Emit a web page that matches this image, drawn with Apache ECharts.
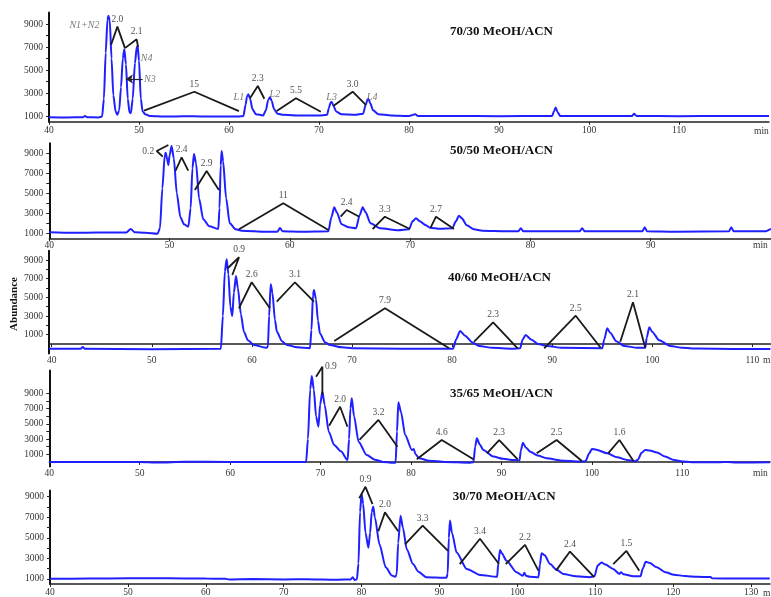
<!DOCTYPE html>
<html><head><meta charset="utf-8">
<script src="https://cdn.jsdelivr.net/npm/echarts@6/dist/echarts.min.js"></script>
<style>html,body{margin:0;padding:0;background:#fff}#c{width:771px;height:597px}</style>
</head><body><div id="c"></div>
<script>
// ---------- DATA ----------
const panelTitles = ['70/30 MeOH/ACN', '50/50 MeOH/ACN', '40/60 MeOH/ACN', '35/65 MeOH/ACN', '30/70 MeOH/ACN'];
const yTickLabels = [1000, 3000, 5000, 7000, 9000];
const xTickLabels = [
  [40, 50, 60, 70, 80, 90, 100, 110],
  [40, 50, 60, 70, 80, 90],
  [40, 50, 60, 70, 80, 90, 100, 110],
  [40, 50, 60, 70, 80, 90, 100, 110],
  [40, 50, 60, 70, 80, 90, 100, 110, 120, 130]
];

// chromatogram traces: [time (min), abundance]
const trace70_30 = [[40,900],[42,880],[43.8,900],[44,1000],[44.2,900],[45.5,880],[45.9,950],[46.1,2500],[46.3,6500],[46.5,9400],[46.6,9720],[46.75,9300],[46.95,6000],[47.15,2800],[47.4,1400],[47.6,1100],[47.8,1500],[48.0,3500],[48.2,6000],[48.37,6800],[48.55,5500],[48.75,2500],[48.95,1300],[49.1,1250],[49.3,2500],[49.55,5600],[49.75,7000],[49.85,7090],[50.0,5800],[50.2,2500],[50.4,1400],[50.7,1150],[51.2,1000],[53,950],[55,980],[57,960],[59,950],[61,960],[61.6,1000],[61.85,2000],[62.0,2700],[62.15,2890],[62.35,2500],[62.6,1600],[63.0,1150],[63.8,1050],[64.1,1500],[64.35,2400],[64.55,2620],[64.75,2300],[65.0,1600],[65.4,1200],[66,1100],[68,1050],[70,1050],[70.9,1100],[71.1,1700],[71.3,2200],[71.4,2250],[71.6,1900],[71.9,1400],[72.5,1150],[74,1100],[74.9,1200],[75.2,2000],[75.4,2450],[75.5,2480],[75.7,2100],[76.0,1500],[76.6,1150],[78,1050],[80,1000],[80.7,1150],[81,1000],[85,1000],[90,980],[95,1000],[95.9,1000],[96.1,1400],[96.3,1750],[96.5,1350],[96.8,1000],[100,1000],[104.8,1000],[105,1200],[105.3,1000],[110,980],[115,1000],[120,1000]];
const trace50_50 = [[40,1100],[42,1050],[44,1080],[46.4,1080],[46.77,1430],[47.1,1100],[48,1050],[49.0,950],[49.2,1500],[49.4,5500],[49.6,8800],[49.68,9060],[49.8,8400],[49.9,7830],[50.0,8800],[50.17,9730],[50.35,8500],[50.6,5000],[50.9,2600],[51.2,1900],[51.56,1660],[51.75,3500],[51.9,7500],[52.03,8930],[52.2,8000],[52.45,4500],[52.8,2400],[53.3,1700],[54.05,1430],[54.15,3500],[54.25,7800],[54.33,9230],[54.45,8200],[54.7,4500],[55.0,2000],[55.5,1400],[56,1250],[58,1150],[58.95,1150],[59.18,1530],[59.4,1200],[61,1150],[63.2,1200],[63.45,2600],[63.69,3600],[63.9,3100],[64.3,1900],[64.9,1600],[65.5,1500],[65.8,2800],[66.05,3600],[66.3,3100],[66.7,2000],[67.5,1500],[69,1300],[69.9,1400],[70.2,2200],[70.48,2500],[70.8,2200],[71.3,1800],[71.65,1560],[72.5,1450],[73.5,1500],[73.8,2200],[74.06,2760],[74.3,2500],[74.7,1800],[75.3,1400],[76,1250],[78,1200],[79.0,1200],[79.2,1500],[79.4,1200],[84.1,1200],[84.3,1500],[84.5,1200],[89.3,1200],[89.5,1600],[89.7,1200],[92,1150],[96.5,1200],[96.7,1600],[96.9,1200],[99.5,1200],[100,1450]];
const trace40_60 = [[39.73,-500],[42.9,-500],[43.1,-320],[43.3,-500],[50,-550],[56.9,-500],[57.1,3000],[57.3,7800],[57.48,9080],[57.65,7500],[57.85,4000],[58.04,3000],[58.2,5500],[58.41,7290],[58.6,6000],[58.9,3200],[59.2,1320],[59.6,400],[60.2,-100],[61.4,-400],[61.6,-300],[61.72,3000],[61.88,6400],[62.05,5500],[62.3,2600],[62.5,1320],[63.0,300],[63.5,-100],[64.5,-350],[65.8,-450],[65.95,1500],[66.1,5200],[66.2,5790],[66.4,4800],[66.6,2500],[66.8,1130],[67.3,200],[67.8,-100],[69,-350],[70,-450],[75,-500],[80.1,-500],[80.4,500],[80.8,1400],[81.3,900],[82.0,200],[82.7,-200],[84,-400],[86,-500],[86.8,-450],[87.05,500],[87.35,970],[87.9,500],[88.6,0],[89.5,-200],[91,-400],[95.0,-450],[95.2,500],[95.5,1690],[95.8,1200],[96.4,300],[97.2,-200],[98.5,-400],[99.3,-400],[99.45,700],[99.7,1790],[100.0,1300],[100.7,400],[101.8,-200],[103,-400],[104.5,-480],[108,-520],[111.8,-520]];
const trace35_65 = [[40,0],[45,-20],[50,0],[52,-80],[55,20],[60,0],[65,0],[68.4,0],[68.6,3000],[68.85,9500],[69.03,11270],[69.25,9500],[69.5,6000],[69.76,4620],[69.95,7500],[70.2,9210],[70.45,7500],[70.9,3970],[71.5,2220],[72.25,1390],[72.99,250],[73.15,3000],[73.3,7000],[73.45,8340],[73.7,6000],[74.2,2650],[75.1,900],[76.0,300],[76.9,0],[77.8,-100],[78.3,-100],[78.45,4000],[78.6,7820],[78.9,6500],[79.35,3530],[80.1,1560],[80.3,1700],[80.5,1000],[80.9,480],[82,150],[83.8,0],[86.4,-100],[86.9,-50],[87.1,2000],[87.28,3100],[87.6,2300],[88.0,1560],[89.1,700],[90.2,400],[91.35,250],[92.0,200],[92.15,1500],[92.37,2520],[92.7,1900],[93.2,1340],[94.0,850],[95.0,480],[96.5,200],[98.7,40],[99.3,100],[99.7,1100],[100.0,1700],[100.5,1600],[101.7,1130],[102.8,600],[103.9,250],[104.8,100],[105.1,300],[105.5,1200],[105.9,1560],[106.4,1500],[107.2,1250],[108.1,700],[109.1,250],[110,50],[111.6,-50],[114,-50],[115,0],[116,-80],[119.7,-30]];
const trace30_70 = [[40,1000],[45,1030],[50,1050],[55,1060],[60,1030],[62.5,1000],[63,950],[66,980],[70,950],[73,960],[75,930],[77,920],[78.6,950],[78.86,1160],[79.1,900],[79.4,950],[79.6,2500],[79.8,7500],[80.0,9260],[80.2,8300],[80.5,5500],[80.87,4040],[81.1,5500],[81.3,7500],[81.5,8040],[81.7,7000],[82.3,4360],[83.1,2120],[83.9,1320],[84.3,1200],[84.5,1400],[84.7,4500],[85.0,7150],[85.3,6000],[85.8,3880],[86.6,2440],[87.3,1700],[88.3,1160],[90.9,1100],[91.05,1500],[91.2,5000],[91.35,6670],[91.6,5500],[92.2,3560],[93.5,1960],[95.2,1380],[97.4,1200],[97.55,2500],[97.77,3820],[98.0,3500],[98.6,2760],[99.9,1640],[100.7,1300],[100.9,1600],[101.1,1300],[101.6,1200],[102.7,1150],[102.9,2400],[103.1,3500],[103.5,3300],[104.2,2440],[105.0,1900],[105.9,1480],[107.5,1250],[109.3,1160],[109.9,1250],[110.3,2300],[110.8,2600],[111.3,2400],[112.3,1960],[113.1,1480],[113.3,1650],[113.6,1450],[114.9,1250],[115.8,1250],[116.1,2000],[116.47,2660],[117.0,2550],[117.9,2120],[119,1650],[120.1,1400],[121.5,1280],[123.1,1200],[124.8,1180],[125.0,1050],[128,1040],[132.4,1040]];

// resolution annotation triangles: [start, apex, end] and their values
const tri70_30 = [[[46.9,7200],[47.6,8770],[48.44,6900]],[[48.44,6900],[49.74,7670],[49.9,7000]],[[50.56,1460],[56.15,3110],[61.1,1430]],[[62.33,2540],[63.2,3610],[63.93,2500]],[[65.3,1430],[67.44,2540],[70.2,1370]],[[71.6,1870],[73.74,3110],[75.2,1960]]];
const res70_30 = ['2.0', '2.1', '15', '2.3', '5.5', '3.0'];
const tri50_50 = [[[49.43,8660],[48.93,9230],[49.9,9830]],[[50.5,7260],[51.0,8600],[51.55,7260]],[[52.1,5330],[53.08,7230],[54.1,5330]],[[55.77,1400],[59.45,4000],[63.2,1330]],[[64.22,2660],[64.72,3330],[65.77,2660]],[[66.88,1430],[67.9,2660],[69.98,1430]],[[71.7,1560],[72.15,2660],[73.64,1430]]];
const res50_50 = ['0.2', '2.4', '2.9', '11', '2.4', '3.3', '2.7'];
const tri40_60 = [[[57.58,8120],[58.72,9300],[58.04,7400]],[[58.7,3830],[59.98,6620],[61.8,3830]],[[62.48,4540],[64.3,6620],[66.2,4540]],[[68.23,320],[73.3,3830],[79.7,-460]],[[82.2,250],[84.1,2330],[86.55,-460]],[[89.2,-460],[92.35,3040],[94.84,-390]],[[96.8,250],[98.07,4470],[99.3,-390]]];
const res40_60 = ['0.9', '2.6', '3.1', '7.9', '2.3', '2.5', '2.1'];
const tri35_65 = [[[69.5,11180],[70.2,12490],[70.2,8780]],[[70.94,4750],[72.16,7240],[72.97,4620]],[[74.3,2880],[76.4,5500],[78.5,2000]],[[80.64,340],[83.4,2870],[86.9,340]],[[88.4,1130],[89.75,2870],[91.8,340]],[[93.9,1130],[96.1,2870],[98.9,120]],[[101.8,1130],[103.05,2870],[104.6,120]]];
const res35_65 = ['0.9', '2.0', '3.2', '4.6', '2.3', '2.5', '1.6'];
const tri30_70 = [[[79.7,8850],[80.5,9960],[81.4,8270]],[[82.15,5640],[83.0,7470],[84.7,5640]],[[85.57,4360],[87.84,6190],[91.1,3720]],[[92.6,2440],[95.2,4910],[97.64,2440]],[[98.5,2440],[100.98,4300],[102.7,1800]],[[104.96,1800],[106.75,3660],[109.87,1160]],[[112.3,2440],[114.0,3720],[115.65,1800]]];
const res30_70 = ['0.9', '2.0', '3.3', '3.4', '2.2', '2.4', '1.5'];

// peak names in the 70/30 run, and where they sit
const peakNames = ['N1+N2', 'N4', 'N3', 'L1', 'L2', 'L3', 'L4'];
const peakNameAt = [[45.67,8910],[50.85,6020],[51.2,4220],[61.1,2630],[65.1,2910],[71.4,2590],[75.9,2630]];
const n3Arrow = [[50.4,4220],[48.55,4220]];

// ---------- LAYOUT / STYLE ----------
const traces = [trace70_30, trace50_50, trace40_60, trace35_65, trace30_70];
const tris = [tri70_30, tri50_50, tri40_60, tri35_65, tri30_70];
const resLabels = [res70_30, res50_50, res40_60, res35_65, res30_70];
const layout = [
  {left:49, top:12.5, width:720, height:109.25, xmin:40, xmax:120, ymin:500, ymax:10000, title:[450,32], minLbl:[754,131], margin:4},
  {left:49.3, top:143.3, width:721.8, height:95, xmin:40, xmax:100, ymin:500, ymax:10000, title:[450,151], minLbl:[753,245], margin:2},
  {left:49, top:250.7, width:721.4, height:102.7, xmin:39.73, xmax:111.8, ymin:-1000, ymax:10000, title:[448,278], minLbl:[763,360], margin:2},
  {left:49.3, top:370.4, width:720.7, height:96.1, xmin:40, xmax:119.7, ymin:-600, ymax:12000, title:[450,394], minLbl:[753,473], margin:2},
  {left:50, top:490.5, width:720, height:94.7, xmin:40, xmax:132.43, ymin:500, ymax:9600, title:[452.7,497], minLbl:[763,593], margin:3}
];
const labelPlace = {'1-0':'left', '3-0':'right'};
const SERIF = '"Liberation Serif","DejaVu Serif",serif';
const BLUE = '#1f1fff';
const plain = v => String(Math.round(v));

const grid = [], xAxis = [], yAxis = [], series = [], graphic = [];
layout.forEach((L, i) => {
  grid.push({left:L.left, top:L.top, width:L.width, height:L.height});
  const xt = xTickLabels[i];
  xAxis.push({type:'value', gridIndex:i, min:L.xmin, max:L.xmax,
    axisLine:{show:true, lineStyle:{color:'#222', width:1.5}},
    axisTick:{show:true, customValues:xt, length:3, lineStyle:{color:'#222'}},
    axisLabel:{customValues:xt, formatter:plain, margin:L.margin, fontFamily:SERIF, fontSize:9.5, color:'#333'},
    splitLine:{show:false}});
  const yt = [];
  for (let v = 1000; v <= 9000; v += 1000) yt.push(v);
  yAxis.push({type:'value', gridIndex:i, min:L.ymin, max:L.ymax,
    axisLine:{show:true, lineStyle:{color:'#111', width:2}},
    axisTick:{show:true, customValues:yt, length:3, lineStyle:{color:'#222'}},
    axisLabel:{customValues:yTickLabels, formatter:plain, margin:6, fontFamily:SERIF, fontSize:9.5, color:'#333'},
    splitLine:{show:false}});
  const traceSeries = {type:'line', xAxisIndex:i, yAxisIndex:i, data:traces[i], symbol:'none',
    smooth:0.25, smoothMonotone:'x',
    lineStyle:{color:BLUE, width:2}, z:3, animation:false};
  if (i === 0) {
    traceSeries.markLine = {silent:true, symbol:['none','arrow'], symbolSize:7, animation:false,
      lineStyle:{color:'#222', width:1.2, type:'solid'}, label:{show:false},
      data:[[{coord:n3Arrow[0]}, {coord:n3Arrow[1]}]]};
  }
  series.push(traceSeries);
  tris[i].forEach((t) => {
    series.push({type:'line', xAxisIndex:i, yAxisIndex:i, data:t, symbol:'none', clip:false,
      lineStyle:{color:'#1a1a1a', width:1.8}, z:4, animation:false});
  });
  series.push({type:'scatter', xAxisIndex:i, yAxisIndex:i, symbolSize:1, clip:false,
    itemStyle:{color:'rgba(0,0,0,0)'}, z:5, animation:false,
    data: tris[i].map((t, k) => ({value:t[1], name:resLabels[i][k],
      label:{show:true, position:labelPlace[i+'-'+k] || 'top', distance:2, formatter:'{b}',
        fontFamily:SERIF, fontSize:9.5, color:'#222'}}))});
  graphic.push({type:'text', x:L.title[0], y:L.title[1],
    style:{text:panelTitles[i], font:'bold 13px ' + SERIF, fill:'#111', textAlign:'left', textVerticalAlign:'middle'}});
  graphic.push({type:'text', x:L.minLbl[0], y:L.minLbl[1],
    style:{text:'min', font:'9.5px ' + SERIF, fill:'#333', textAlign:'left', textVerticalAlign:'middle'}});
});
// peak names (italic) in first panel
series.push({type:'scatter', xAxisIndex:0, yAxisIndex:0, symbolSize:1, itemStyle:{color:'rgba(0,0,0,0)'}, z:5, animation:false,
  data: peakNames.map((n, k) => ({value:peakNameAt[k], name:n,
    label:{show:true, position: k === 0 ? 'left' : 'inside', formatter:'{b}', fontFamily:SERIF,
      fontStyle:'italic', fontSize:10, color:'#555', distance:0}}))});
graphic.push({type:'text', x:14, y:304, rotation:Math.PI/2,
  style:{text:'Abundance', font:'bold 11px ' + SERIF, fill:'#111', textAlign:'center', textVerticalAlign:'middle'}});

const chart = echarts.init(document.getElementById('c'), null, {renderer:'canvas'});
chart.setOption({animation:false, grid, xAxis, yAxis, series, graphic});
</script></body></html>
